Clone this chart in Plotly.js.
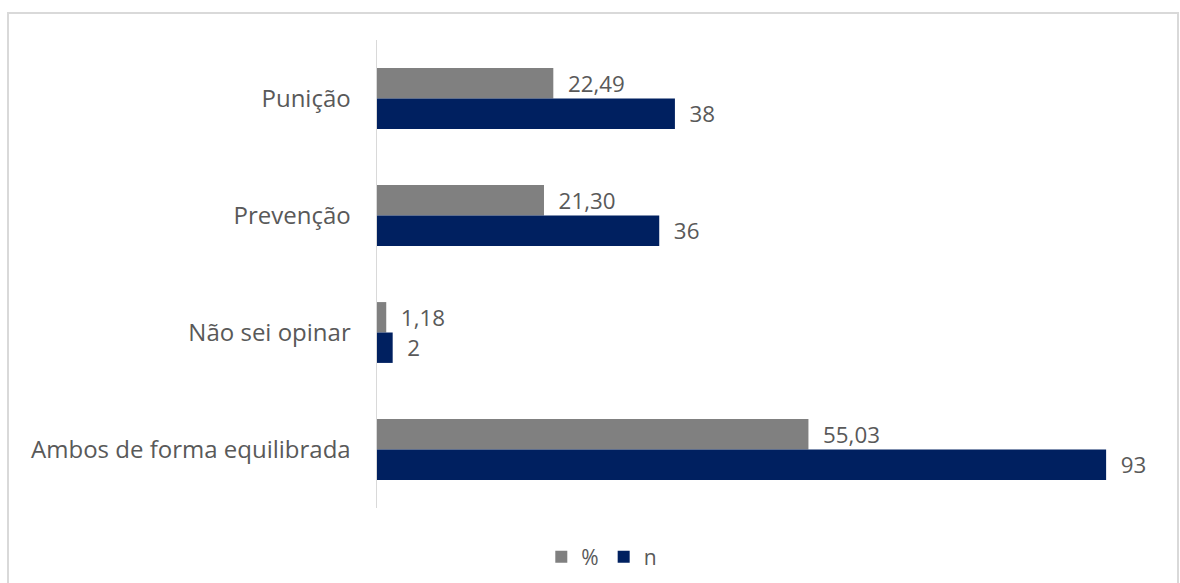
<!DOCTYPE html>
<html>
<head>
<meta charset="utf-8">
<script src="https://cdn.plot.ly/plotly-3.0.1.min.js"></script>
<style>
  html, body { margin: 0; padding: 0; background: #ffffff; }
  #chart { width: 1180px; height: 583px; }
</style>
</head>
<body>
<div id="chart"></div>
<script>
// Categories, top to bottom
const categories = ["Punição", "Prevenção", "Não sei opinar", "Ambos de forma equilibrada"];
// Series values
const percentValues = [22.49, 21.30, 1.18, 55.03];
const nValues = [38, 36, 2, 93];
// Series names
const seriesNames = ["%", "n"];

const textColor = "#595959";
const fontFamily = "'Open Sans', sans-serif";

const traces = [
  {
    type: "bar",
    orientation: "h",
    name: seriesNames[0],
    y: categories,
    x: percentValues,
    marker: { color: "#808080" },
    texttemplate: "  %{x:.2f}",
    textposition: "outside",
    cliponaxis: false,
    textfont: { family: fontFamily, size: 23.5, color: textColor },
    hoverinfo: "x+y"
  },
  {
    type: "bar",
    orientation: "h",
    name: seriesNames[1],
    y: categories,
    x: nValues,
    marker: { color: "#002060" },
    texttemplate: "  %{x}",
    textposition: "outside",
    cliponaxis: false,
    textfont: { family: fontFamily, size: 23.5, color: textColor },
    hoverinfo: "x+y"
  }
];

const plotLeft = 377, plotRight = 1161, plotTop = 40, plotBottom = 508;
const pw = plotRight - plotLeft, ph = plotBottom - plotTop;

const layout = {
  width: 1180,
  height: 583,
  margin: { l: plotLeft, r: 1180 - plotRight, t: plotTop, b: 583 - plotBottom, pad: 0 },
  paper_bgcolor: "#ffffff",
  plot_bgcolor: "#ffffff",
  separators: ",.",
  barmode: "group",
  bargap: 0.48,
  bargroupgap: 0,
  font: { family: fontFamily, color: textColor },
  xaxis: {
    range: [0, 100],
    visible: false,
    fixedrange: true
  },
  yaxis: {
    type: "category",
    autorange: "reversed",
    showline: true,
    linecolor: "#d9d9d9",
    linewidth: 1.5,
    showgrid: false,
    zeroline: false,
    ticks: "",
    ticklabelstandoff: 20,
    tickfont: { family: fontFamily, size: 24, color: textColor },
    fixedrange: true
  },
  showlegend: true,
  legend: {
    orientation: "h",
    xref: "container",
    yref: "container",
    x: 0.51,
    xanchor: "center",
    y: 1 - 557 / 583,
    yanchor: "middle",
    font: { family: fontFamily, size: 21, color: textColor },
    itemwidth: 30,
    tracegroupgap: 0
  },
  shapes: [
    {
      type: "rect",
      xref: "paper",
      yref: "paper",
      x0: (8 - plotLeft) / pw,
      x1: (1178 - plotLeft) / pw,
      y0: (plotBottom - 600) / ph,
      y1: (plotBottom - 13) / ph,
      line: { color: "#d9d9d9", width: 2 },
      fillcolor: "rgba(0,0,0,0)",
      layer: "below"
    }
  ]
};

Plotly.newPlot("chart", traces, layout, { displayModeBar: false, staticPlot: true });
</script>
</body>
</html>
